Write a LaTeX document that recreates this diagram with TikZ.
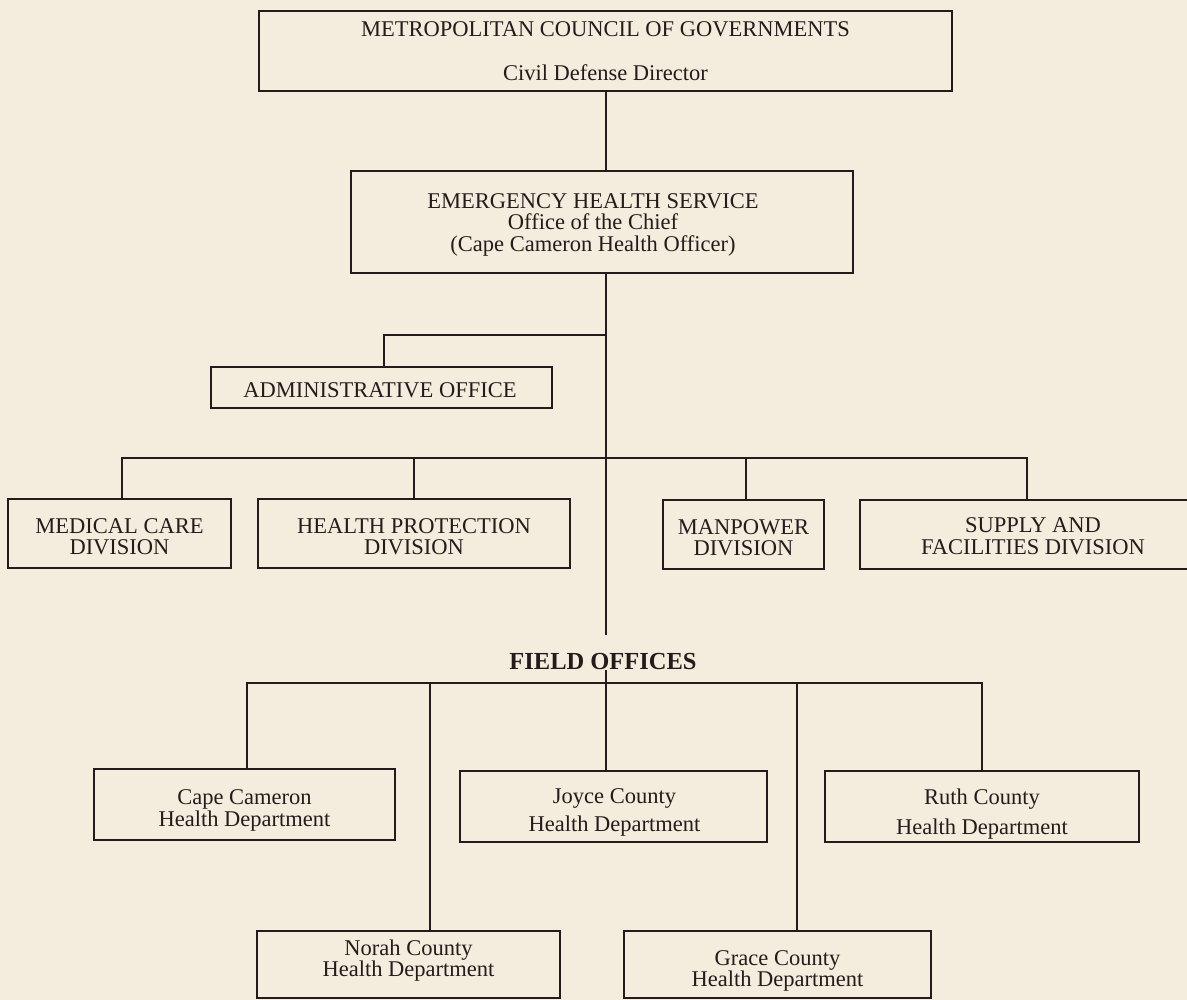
\documentclass[tikz,border=0pt]{standalone}
\usepackage{fontspec}
\setmainfont{Liberation Serif}
\definecolor{paper}{RGB}{243,237,221}
\definecolor{ink}{RGB}{36,28,28}
\begin{document}
\begin{tikzpicture}[x=1pt,y=-1pt,
  box/.style={draw=ink, line width=1.8pt, rectangle, inner sep=0pt},
  lbl/.style={inner sep=0pt, align=center, text=ink, font=\fontsize{22.5}{21.5}\selectfont},
  wire/.style={draw=ink, line width=1.8pt},
  head/.style={inner sep=0pt, text=ink, font=\bfseries\fontsize{24.5}{25}\selectfont}]
\useasboundingbox (0,0) rectangle (1187,1000);
\fill[paper] (0,0) rectangle (1187,1000);
\clip (0,0) rectangle (1187,1000);

% boxes
\node[box, minimum width=693, minimum height=80] (top) at (605.5,51) {};
\node[lbl] (topT) at (605.5,51)
  {METROPOLITAN COUNCIL OF GOVERNMENTS\\[22pt]Civil Defense Director};
\node[box, minimum width=502, minimum height=102] (ehs) at (602,222) {};
\node[lbl] (ehsT) at (593,224.5)
  {EMERGENCY HEALTH SERVICE\\Office of the Chief\\(Cape Cameron Health Officer)};
\node[box, minimum width=341, minimum height=41] (admin) at (381.5,387.5) {};
\node[lbl] (adminT) at (380,390.5) {ADMINISTRATIVE OFFICE};

\node[box, minimum width=223, minimum height=69] (med) at (119.5,533.5) {};
\node[lbl] (medT) at (119.5,536.5) {MEDICAL CARE\\DIVISION};
\node[box, minimum width=312, minimum height=69] (hp) at (414,533.5) {};
\node[lbl] (hpT) at (414,536.5) {HEALTH PROTECTION\\DIVISION};
\node[box, minimum width=161, minimum height=69] (man) at (743.5,534.5) {};
\node[lbl] (manT) at (743.5,537.5) {MANPOWER\\DIVISION};
\node[box, minimum width=346, minimum height=69] (sup) at (1033,534.5) {};
\node[lbl] (supT) at (1033,536) {SUPPLY AND\\FACILITIES DIVISION};

\node[head] (fo) at (603,662) {FIELD OFFICES};

\node[box, minimum width=301, minimum height=71] (cape) at (244.5,804.5) {};
\node[lbl] (capeT) at (244.5,810.5) {Cape Cameron\\Health Department};
\node[box, minimum width=307, minimum height=71] (joyce) at (613.5,806.5) {};
\node[lbl] (joyceT) at (614.5,812) {Joyce County\\[6.5pt]Health Department};
\node[box, minimum width=314, minimum height=71] (ruth) at (982,806.5) {};
\node[lbl] (ruthT) at (982,814.5) {Ruth County\\[8.5pt]Health Department};
\node[box, minimum width=303, minimum height=67] (norah) at (408.5,964.5) {};
\node[lbl] (norahT) at (408.5,960.5) {Norah County\\Health Department};
\node[box, minimum width=307, minimum height=67] (grace) at (777.5,964.5) {};
\node[lbl] (graceT) at (777.5,971) {Grace County\\Health Department};

% junctions
\coordinate (trunk) at (606,0);
\coordinate (ja) at (606,335);
\coordinate (jd) at (606,458);
\coordinate (foA) at (606,635);
\coordinate (foB) at (606,670);
\coordinate (jf) at (606,683);

% connectors
\draw[wire] (top.south -| trunk) -- (ehs.north -| trunk);
\draw[wire] (ehs.south -| trunk) -- (foA);
\draw[wire] (ja) -| ([xshift=2.5]admin.north);
\draw[wire] ([xshift=2.5]med.north) |- (jd);
\draw[wire] (hp.north) |- (jd);
\draw[wire] (jd) -| ([xshift=2.5]man.north);
\draw[wire] (jd) -| ([xshift=-6]sup.north);
\draw[wire] (foB) -- (joyce.north -| foB);
\draw[wire] ([xshift=2.5]cape.north) |- (jf) -| (ruth.north);
\draw[wire] ([xshift=21.5]norah.north) |- (jf);
\draw[wire] ([xshift=19.5]grace.north) |- (jf);
\end{tikzpicture}
\end{document}
